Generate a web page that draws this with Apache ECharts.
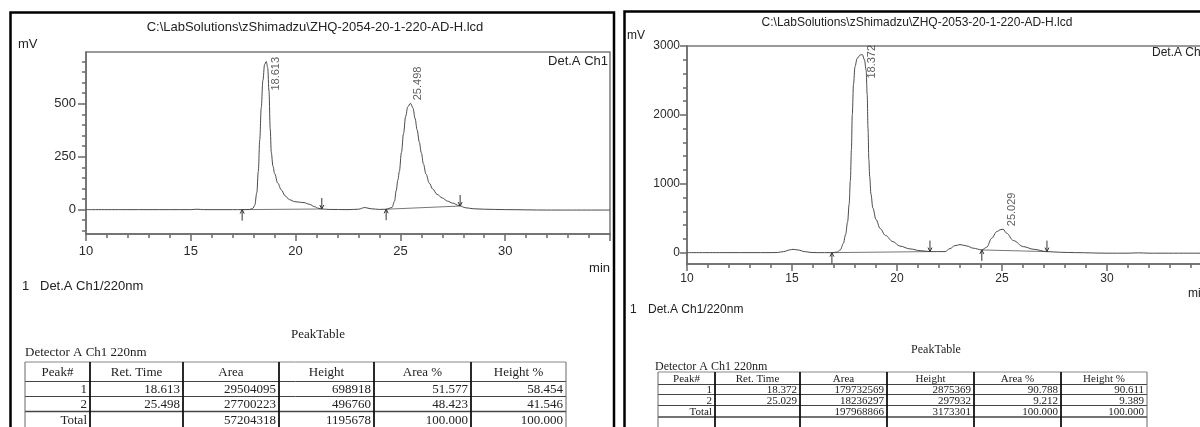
<!DOCTYPE html>
<html><head><meta charset="utf-8">
<script src="https://cdn.jsdelivr.net/npm/echarts@6/dist/echarts.min.js"></script>
<style>html,body{margin:0;padding:0;background:#fff;overflow:hidden}#c{width:1200px;height:427px}</style>
</head><body><div id="c"></div>
<script>
// ---------------- DATA ----------------
const leftTitle = 'C:\\LabSolutions\\zShimadzu\\ZHQ-2054-20-1-220-AD-H.lcd';
const rightTitle = 'C:\\LabSolutions\\zShimadzu\\ZHQ-2053-20-1-220-AD-H.lcd';
const channelLabel = 'Det.A Ch1';
const channelNote = 'Det.A Ch1/220nm';
const yUnit = 'mV';
const xUnit = 'min';

// left chromatogram (min, mV)
const leftTime = [10.0,12.0,14.0,15.0,15.3,15.6,17.0,17.45,17.8,17.95,18.05,18.15,18.22,18.29,18.36,18.44,18.52,18.6,18.67,18.73,18.79,18.84,18.92,19.0,19.15,19.32,19.5,19.71,19.95,20.19,20.4,20.67,20.9,21.1,21.25,21.6,22.5,23.0,23.3,23.6,24.0,24.32,24.6,24.72,24.8,24.88,24.95,25.05,25.15,25.25,25.35,25.48,25.6,25.7,25.8,25.9,26.0,26.1,26.22,26.38,26.54,26.75,27.0,27.25,27.48,27.81,28.1,28.5,29.0,30.0,32.0,35.0];
const leftSignal = [0,0,0,0,2,0,0,0,1,5,20,80,180,330,480,610,685,699,670,560,380,270,205,170,125,93,65,47,38,35,33,25,14,6,3,1,0,2,10,4,1,2,10,40,90,140,180,270,360,440,485,502,480,430,375,320,268,215,168,125,97,72,55,40,31,19,9,4,2,0,-2,-2];

// right chromatogram (min, mV)
const rightTime = [10,12,14.0,14.3,14.6,14.9,15.05,15.3,15.6,15.9,16.2,16.9,17.15,17.3,17.45,17.55,17.65,17.72,17.78,17.83,17.87,17.93,18.0,18.1,18.25,18.35,18.45,18.53,18.58,18.62,18.66,18.7,18.76,18.85,19.0,19.2,19.45,19.8,20.14,20.62,21.1,21.57,22.29,22.52,22.75,23.0,23.32,23.64,24.04,24.27,24.51,24.75,24.95,25.05,25.22,25.54,26.02,26.5,27.14,27.8,28.5,30.0,31.0,31.5,32.0,35.0];
const rightSignal = [0,0,0,2,15,40,48,38,15,3,0,0,8,40,137,260,450,700,1050,1500,2000,2450,2700,2820,2870,2875,2800,2650,2300,1800,1350,1100,850,650,480,350,250,160,95,54,29,15,15,58,100,117,97,64,39,78,209,306,335,340,282,175,87,49,15,5,0,-8,-8,-3,-8,-8];

// peaks: retention time label, apex (mV)
const leftPeakRT = ['18.613','25.498'];
const leftPeakApex = [699, 502];
const rightPeakRT = ['18.372','25.029'];
const rightPeakApex = [2875, 340];

// integration marks: [time, mV] start / end
const leftStarts = [[17.45,0],[24.32,2]];
const leftEnds = [[21.25,3],[27.85,17]];
const rightStarts = [[16.9,0],[24.04,39]];
const rightEnds = [[21.57,15],[27.14,15]];

// axes
const xMin = 10, xMax = 35, xStep = 5;
const leftYRange = [-115, 744];
const leftYLabels = [0,250,500];
const leftYMinor = [-100,-50,0,50,100,150,200,250,300,350,400,450,500,550,600,650,700];
const rightYRange = [-165, 3000];
const rightYLabels = [0,1000,2000,3000];
const rightYMinor = [0,200,400,600,800,1000,1200,1400,1600,1800,2000,2200,2400,2600,2800,3000];

// peak tables
const tableTitle = 'PeakTable';
const tableDetector = 'Detector A Ch1 220nm';
const tableHeader = ['Peak#','Ret. Time','Area','Height','Area %','Height %'];
const leftRows = [['1','18.613','29504095','698918','51.577','58.454'],['2','25.498','27700223','496760','48.423','41.546'],['Total','','57204318','1195678','100.000','100.000']];
const rightRows = [['1','18.372','179732569','2875369','90.788','90.611'],['2','25.029','18236297','297932','9.212','9.389'],['Total','','197968866','3173301','100.000','100.000']];

// ---------------- BUILD ----------------
const SANS = 'Liberation Sans, Arial, sans-serif';
const SERIF = 'Liberation Serif, Times New Roman, serif';
const zip = (a, b) => a.map((v, i) => [v, b[i]]);

function xAxisCfg(gi, fs, margin) {
  return {type:'value', gridIndex:gi, min:xMin, max:xMax, interval:xStep,
    axisLine:{show:true, onZero:false, lineStyle:{color:'#6a6a6a', width:1.5}},
    axisTick:{show:true, inside:false, length:7, lineStyle:{color:'#6a6a6a', width:1.5}},
    minorTick:{show:true, splitNumber:5, length:4, lineStyle:{color:'#6a6a6a', width:1.5}},
    axisLabel:{show:true, showMaxLabel:false, margin:margin, color:'#2a2a2a', fontFamily:SANS, fontSize:fs},
    splitLine:{show:false}};
}
function yAxisMain(gi, range, ticks, labels, fs, margin) {
  return {type:'value', gridIndex:gi, min:range[0], max:range[1], position:'left',
    axisLine:{show:true, onZero:false, lineStyle:{color:'#6a6a6a', width:1.5}},
    axisTick:{show:true, length:4, customValues:ticks, lineStyle:{color:'#6a6a6a', width:1.5}},
    axisLabel:{show:true, margin:margin, customValues:labels, formatter:v => String(v), color:'#2a2a2a', fontFamily:SANS, fontSize:fs},
    splitLine:{show:false}};
}
function yAxisMajor(gi, range, labels, len) {
  return {type:'value', gridIndex:gi, min:range[0], max:range[1], position:'left',
    axisLine:{show:false},
    axisTick:{show:true, length:len, customValues:labels, lineStyle:{color:'#6a6a6a', width:1.5}},
    axisLabel:{show:false}, splitLine:{show:false}};
}
function curve(xi, yi, t, v) {
  return {type:'line', xAxisIndex:xi, yAxisIndex:yi, data:zip(t, v), showSymbol:false,
    smooth:0.35, smoothMonotone:'x', lineStyle:{color:'#4a4a4a', width:1}, z:3, silent:true, animation:false};
}
function baselines(xi, yi, starts, ends) {
  return starts.map((s, i) => ({type:'line', xAxisIndex:xi, yAxisIndex:yi, data:[s, ends[i]],
    showSymbol:false, lineStyle:{color:'#777', width:1}, z:2, silent:true, animation:false}));
}
function arrows(xi, yi, starts, ends) {
  const data = starts.map(s => [s[0], s[1], 1]).concat(ends.map(e => [e[0], e[1], -1]));
  return {type:'custom', xAxisIndex:xi, yAxisIndex:yi, data:data, silent:true, z:5, animation:false,
    renderItem(params, api) {
      const p = api.coord([api.value(0), api.value(1)]);
      const d = api.value(2), L = 11, h = 4, w = 2;
      return {type:'group', children:[
        {type:'line', shape:{x1:p[0], y1:p[1], x2:p[0], y2:p[1] + d * L}, style:{stroke:'#333', lineWidth:1}},
        {type:'polyline', shape:{points:[[p[0]-w, p[1]+d*h],[p[0], p[1]],[p[0]+w, p[1]+d*h]]}, style:{stroke:'#333', fill:null, lineWidth:1}}
      ]};
    }};
}
// offsets are given in screen px [right, down] and converted to the rotated label frame
function peakLabels(xi, yi, rts, apex, offsets, fs) {
  return {type:'scatter', xAxisIndex:xi, yAxisIndex:yi, symbolSize:1, itemStyle:{color:'rgba(0,0,0,0)'},
    silent:true, z:6, animation:false,
    data: rts.map((r, i) => ({value:[parseFloat(r), apex[i]],
      label:{show:true, formatter:r, position:'inside', rotate:90, align:'left', verticalAlign:'middle',
        offset:[-offsets[i][1], offsets[i][0]], color:'#333', fontFamily:SANS, fontSize:fs}}))};
}
function txt(x, y, text, font, align, extra) {
  return Object.assign({type:'text', x:x, y:y, silent:true,
    style:{text:text, font:font, fill:'#222', align:align || 'left', verticalAlign:'middle'}}, extra || {});
}
function table(cols, rowsY, header, rows, fs) {
  const els = [];
  const font = fs + 'px ' + SERIF;
  rowsY.forEach((y, i) => els.push({type:'line', silent:true,
    shape:{x1:cols[0], y1:y, x2:cols[cols.length-1], y2:y},
    style:{stroke: i === 0 ? '#888' : '#444', lineWidth: i === rowsY.length - 2 ? 1.6 : 1}}));
  cols.forEach((x, i) => els.push({type:'line', silent:true,
    shape:{x1:x, y1:rowsY[0], x2:x, y2:rowsY[rowsY.length-1]},
    style:{stroke: i === 0 || i === cols.length - 1 ? '#666' : '#111', lineWidth: i === 0 || i === cols.length - 1 ? 1 : 1.8}}));
  header.forEach((h, c) => els.push(txt((cols[c] + cols[c+1]) / 2, (rowsY[0] + rowsY[1]) / 2 + 1, h, font, 'center')));
  rows.forEach((r, ri) => r.forEach((v, c) => {
    if (v !== '') els.push(txt(cols[c+1] - 3, (rowsY[ri+1] + rowsY[ri+2]) / 2 + 1, v, font, 'right'));
  }));
  return els;
}

const graphics = [
  {type:'rect', silent:true, shape:{x:10.5, y:12.5, width:603.5, height:430}, style:{stroke:'#000', lineWidth:2.5, fill:null}},
  {type:'rect', silent:true, shape:{x:624.5, y:11.5, width:600, height:430}, style:{stroke:'#000', lineWidth:2.5, fill:null}},
  txt(315, 27, leftTitle, '13px ' + SANS, 'center'),
  txt(18, 44, yUnit, '13px ' + SANS, 'left'),
  txt(608, 61, channelLabel, '13px ' + SANS, 'right'),
  txt(610, 268, xUnit, '13px ' + SANS, 'right'),
  txt(22, 286, '1', '13px ' + SANS, 'left'),
  txt(40, 286, channelNote, '13px ' + SANS, 'left'),
  txt(318, 335, tableTitle, '13px ' + SERIF, 'center'),
  txt(25, 353, tableDetector, '13px ' + SERIF, 'left'),
  txt(917, 23, rightTitle, '12px ' + SANS, 'center'),
  txt(627, 36, yUnit, '12px ' + SANS, 'left'),
  txt(1152, 53, channelLabel, '12px ' + SANS, 'left'),
  txt(1188, 294, xUnit, '12px ' + SANS, 'left'),
  txt(630, 310, '1', '12px ' + SANS, 'left'),
  txt(648, 310, channelNote, '12px ' + SANS, 'left'),
  txt(936, 350, tableTitle, '12px ' + SERIF, 'center'),
  txt(655, 367, tableDetector, '12px ' + SERIF, 'left')
].concat(
  table([25, 90, 183, 279, 374, 471, 566], [362, 381.5, 396.5, 411.5, 428], tableHeader, leftRows, 13),
  table([658, 715, 800, 887, 974, 1061, 1147], [372, 384.5, 394.5, 405.5, 417, 429], tableHeader, rightRows, 11)
);

const option = {
  animation:false,
  backgroundColor:'#fff',
  grid:[
    {left:86, top:52, width:524, height:182, outerBoundsMode:'none', show:true, borderColor:'#7a7a7a', borderWidth:1.5, backgroundColor:'transparent'},
    {left:687, top:46, width:525, height:218, outerBoundsMode:'none', show:true, borderColor:'#7a7a7a', borderWidth:1.5, backgroundColor:'transparent'}
  ],
  xAxis:[xAxisCfg(0, 13, 11), xAxisCfg(1, 12, 9)],
  yAxis:[
    yAxisMain(0, leftYRange, leftYMinor, leftYLabels, 13, 10),
    yAxisMajor(0, leftYRange, leftYLabels, 8),
    yAxisMain(1, rightYRange, rightYMinor, rightYLabels, 12, 7),
    yAxisMajor(1, rightYRange, rightYLabels, 7)
  ],
  series:[
    curve(0, 0, leftTime, leftSignal),
    curve(1, 2, rightTime, rightSignal),
    arrows(0, 0, leftStarts, leftEnds),
    arrows(1, 2, rightStarts, rightEnds),
    peakLabels(0, 0, leftPeakRT, leftPeakApex, [[9, 29], [7, -3]], 11),
    peakLabels(1, 2, rightPeakRT, rightPeakApex, [[9, 24], [9, -3]], 11)
  ].concat(baselines(0, 0, leftStarts, leftEnds), baselines(1, 2, rightStarts, rightEnds)),
  graphic:{elements:graphics}
};
const chart = echarts.init(document.getElementById('c'), null, {renderer:'canvas'});
chart.setOption(option);
</script></body></html>
